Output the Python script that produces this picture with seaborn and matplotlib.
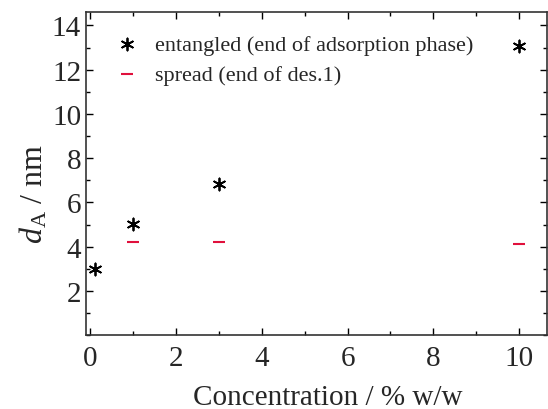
import matplotlib
matplotlib.use("Agg")
import matplotlib.pyplot as plt
import seaborn as sns
import pandas as pd
from matplotlib.ticker import MultipleLocator

conc_ent = [0.1, 1, 3, 10]
d_ent = [3.0, 5.03, 6.83, 13.05]
conc_spr = [1, 3, 10]
d_spr = [4.21, 4.21, 4.13]
label_ent = "entangled (end of adsorption phase)"
label_spr = "spread (end of des.1)"

sns.set_style("ticks")
plt.rcParams["font.family"] = ["Liberation Serif", "DejaVu Serif"]
plt.rcParams["mathtext.fontset"] = "custom"
plt.rcParams["mathtext.rm"] = "Liberation Serif"
plt.rcParams["mathtext.it"] = "Liberation Serif:italic"

fig = plt.figure(figsize=(5.48, 4.10), dpi=100)
ax = fig.add_axes([0.157, 0.180, 0.841, 0.788])

df_e = pd.DataFrame({"x": conc_ent, "y": d_ent})
df_s = pd.DataFrame({"x": conc_spr, "y": d_spr})
sns.scatterplot(data=df_e, x="x", y="y", ax=ax, marker=(6, 2, 0), s=75,
                color="black", linewidth=1.3, edgecolor="black", label=label_ent)
sns.scatterplot(data=df_s, x="x", y="y", ax=ax, marker="_", s=80,
                color="#e0103c", linewidth=1.5, edgecolor="#e0103c", label=label_spr)

ax.set_xlim(-0.1, 10.65)
ax.set_ylim(0, 14.6)
ax.xaxis.set_major_locator(MultipleLocator(2))
ax.xaxis.set_minor_locator(MultipleLocator(1))
ax.yaxis.set_minor_locator(MultipleLocator(1))
ax.set_yticks([2, 4, 6, 8, 10, 12, 14])
ax.tick_params(which="both", direction="in", top=True, right=True, labelsize=21, width=1, color="black")
ax.tick_params(which="major", length=5)
ax.tick_params(axis="x", which="major", pad=7)
ax.tick_params(which="minor", length=3)
for sp in ax.spines.values():
    sp.set_visible(True)
    sp.set_color("#333333")
    sp.set_linewidth(1.2)

ax.set_xlabel("Concentration / % w/w", fontsize=21)
ax.xaxis.set_label_coords(0.525, -0.152)
ax.set_ylabel(r"$d_\mathrm{A}$ / nm", fontsize=23)
ax.yaxis.set_label_coords(-0.08, 0.44)

leg = ax.legend(loc="upper left", frameon=False, fontsize=16, handletextpad=0.3,
                bbox_to_anchor=(0.006, 0.98), borderaxespad=0.3, labelspacing=0.45)

fig.savefig("out.png", dpi=100)
